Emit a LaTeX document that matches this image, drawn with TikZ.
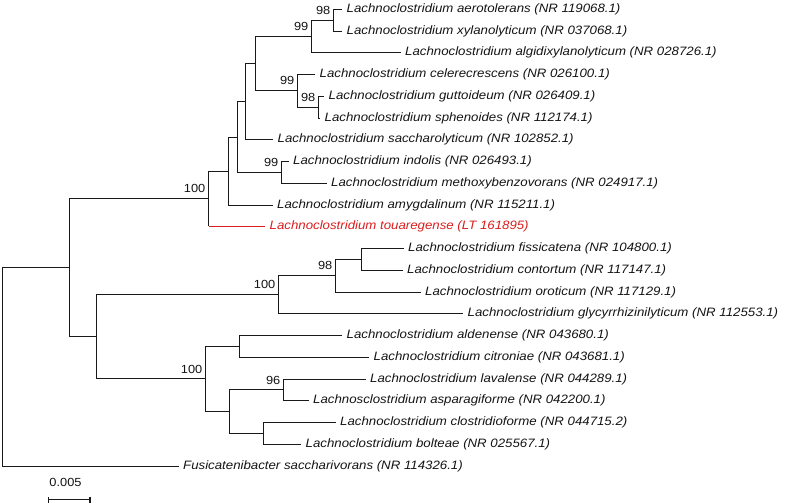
\documentclass[tikz,border=0pt]{standalone}
\usepackage{fontspec}
\setmainfont{Liberation Sans}[FakeStretch=1.09]
\usetikzlibrary{arrows.meta}
\definecolor{tred}{RGB}{218,30,30}
\definecolor{lin}{RGB}{25,25,25}
\tikzset{
  br/.style={draw=lin, line width=1.1bp},
  redbr/.style={draw=tred, line width=1.1bp},
  leaf/.style={anchor=west, inner xsep=4.5bp, inner ysep=0pt, text height=8.8bp, text depth=3bp,
               font=\fontsize{12.2}{14}\selectfont\itshape, text=black!92},
  boot/.style={anchor=base east, inner sep=0pt, xshift=-3bp, yshift=5.5bp,
               font=\fontsize{11.8}{13}\selectfont, text=black!92},
}
\begin{document}
\begin{tikzpicture}[x=1bp,y=-1bp]
\useasboundingbox (0,0) rectangle (789,503);
% internal nodes
\coordinate (K) at (333.5,20.5);
\coordinate (I) at (311.5,36.5);
\coordinate (L) at (318.5,107.5);
\coordinate (J) at (297.5,90.5);
\coordinate (H) at (255.5,63.5);
\coordinate (F) at (245.5,101.5);
\coordinate (G) at (281.5,172.5);
\coordinate (E) at (237.5,137.5);
\coordinate (D) at (228.5,171.5);
\coordinate (B) at (208.5,198.5);
\coordinate (O) at (361.5,259.5);
\coordinate (N) at (335.5,275.5);
\coordinate (M) at (278.5,294.5);
\coordinate (Q) at (239.5,346.5);
\coordinate (S) at (283.5,389.5);
\coordinate (T) at (263.5,433.5);
\coordinate (R) at (229.5,411.5);
\coordinate (P) at (205.5,378.5);
\coordinate (C) at (96.5,336.5);
\coordinate (A) at (69.5,267.5);
\coordinate (R0) at (2.5,366.5);
% leaves
\node[leaf] (l0) at (342,9.5) {Lachnoclostridium aerotolerans (NR 119068.1)};
\node[leaf] (l1) at (342,31.5) {Lachnoclostridium xylanolyticum (NR 037068.1)};
\node[leaf] (l2) at (400.5,52.5) {Lachnoclostridium algidixylanolyticum (NR 028726.1)};
\node[leaf] (l3) at (315,74.5) {Lachnoclostridium celerecrescens (NR 026100.1)};
\node[leaf] (l4) at (324,96.5) {Lachnoclostridium guttoideum (NR 026409.1)};
\node[leaf] (l5) at (320,118.5) {Lachnoclostridium sphenoides (NR 112174.1)};
\node[leaf] (l6) at (273,139.5) {Lachnoclostridium saccharolyticum (NR 102852.1)};
\node[leaf] (l7) at (288.5,161.5) {Lachnoclostridium indolis (NR 026493.1)};
\node[leaf] (l8) at (326.5,183.5) {Lachnoclostridium methoxybenzovorans (NR 024917.1)};
\node[leaf] (l9) at (272.5,205.5) {Lachnoclostridium amygdalinum (NR 115211.1)};
\node[leaf, text=tred] (l10) at (265,226.5) {Lachnoclostridium touaregense (LT 161895)};
\node[leaf] (l11) at (403.5,248.5) {Lachnoclostridium fissicatena (NR 104800.1)};
\node[leaf] (l12) at (402.5,270.5) {Lachnoclostridium contortum (NR 117147.1)};
\node[leaf] (l13) at (420.5,292.5) {Lachnoclostridium oroticum (NR 117129.1)};
\node[leaf] (l14) at (463,313.5) {Lachnoclostridium glycyrrhizinilyticum (NR 112553.1)};
\node[leaf] (l15) at (342,335.5) {Lachnoclostridium aldenense (NR 043680.1)};
\node[leaf] (l16) at (369,357.5) {Lachnoclostridium citroniae (NR 043681.1)};
\node[leaf] (l17) at (365.5,379.5) {Lachnoclostridium lavalense (NR 044289.1)};
\node[leaf] (l18) at (308.5,400.5) {Lachnosclostridium asparagiforme (NR 042200.1)};
\node[leaf] (l19) at (335.5,422.5) {Lachnoclostridium clostridioforme (NR 044715.2)};
\node[leaf] (l20) at (301,444.5) {Lachnoclostridium bolteae (NR 025567.1)};
\node[leaf] (l21) at (178.5,466.5) {Fusicatenibacter saccharivorans (NR 114326.1)};
% branches
\draw[br] (K) |- (l0.west);
\draw[br] (K) |- (l1.west);
\draw[br] (I) |- (K);
\draw[br] (I) |- (l2.west);
\draw[br] (L) |- (l4.west);
\draw[br] (L) |- (l5.west);
\draw[br] (J) |- (l3.west);
\draw[br] (J) |- (L);
\draw[br] (H) |- (I);
\draw[br] (H) |- (J);
\draw[br] (F) |- (H);
\draw[br] (F) |- (l6.west);
\draw[br] (G) |- (l7.west);
\draw[br] (G) |- (l8.west);
\draw[br] (E) |- (F);
\draw[br] (E) |- (G);
\draw[br] (D) |- (E);
\draw[br] (D) |- (l9.west);
\draw[br] (B) |- (D);
\draw[br] (B) -- (B |- l10.west);
\draw[redbr] (B |- l10.west) -- (l10.west);
\draw[br] (O) |- (l11.west);
\draw[br] (O) |- (l12.west);
\draw[br] (N) |- (O);
\draw[br] (N) |- (l13.west);
\draw[br] (M) |- (N);
\draw[br] (M) |- (l14.west);
\draw[br] (Q) |- (l15.west);
\draw[br] (Q) |- (l16.west);
\draw[br] (S) |- (l17.west);
\draw[br] (S) |- (l18.west);
\draw[br] (T) |- (l19.west);
\draw[br] (T) |- (l20.west);
\draw[br] (R) |- (S);
\draw[br] (R) |- (T);
\draw[br] (P) |- (Q);
\draw[br] (P) |- (R);
\draw[br] (C) |- (M);
\draw[br] (C) |- (P);
\draw[br] (A) |- (B);
\draw[br] (A) |- (C);
\draw[br] (R0) |- (A);
\draw[br] (R0) |- (l21.west);
% bootstrap values
\node[boot] (bK) at (K) {98};
\node[boot] (bI) at (I) {99};
\node[boot] (bJ) at (J) {99};
\node[boot] (bL) at (L) {98};
\node[boot] (bG) at (G) {99};
\node[boot] (bB) at (B) {100};
\node[boot] (bN) at (N) {98};
\node[boot] (bM) at (M) {100};
\node[boot] (bP) at (P) {100};
\node[boot] (bS) at (S) {96};
% scale bar
\coordinate (sb1) at (47.5,499.5);
\coordinate (sb2) at (90.5,499.5);
\draw[br, {Bar[width=6bp]}-{Bar[width=6bp]}] (sb1) -- (sb2);
\node[boot, anchor=base, xshift=0bp, yshift=0bp] (sbl) at (68.5,492.3) {0.005};
\end{tikzpicture}
\end{document}
